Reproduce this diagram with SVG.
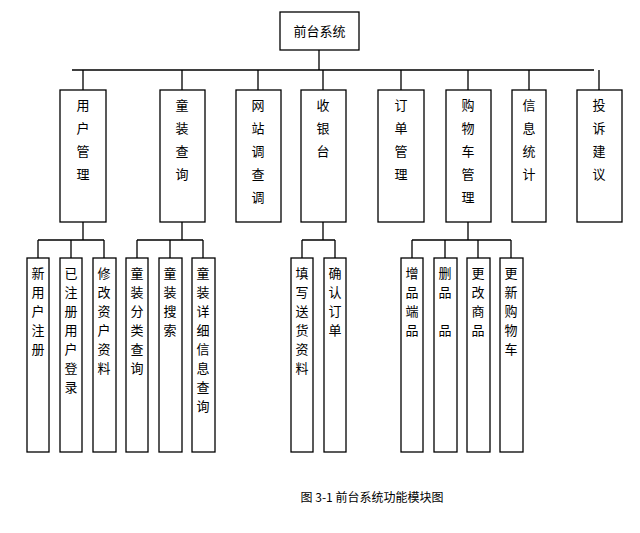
<svg xmlns="http://www.w3.org/2000/svg" width="640" height="533" viewBox="0 0 640 533">
<style>
rect{fill:#fff;stroke:#000;stroke-width:1.3}
text{font-family:"Noto Sans CJK SC","Liberation Sans",sans-serif;font-size:13px;fill:#000;text-anchor:middle}
.c path{fill:none;stroke:#000;stroke-width:1.3}
</style>
<rect x="0" y="0" width="640" height="533" style="stroke:none"/>
<g class="c">
<path d="M319 50V70M72 70H594M83 70V90M182 70V90M258 70V90M323 70V90M401 70V90M468 70V90M529 70V90M599 70V90"/>
<path d="M83 222V240M38 240H104M38 240V258M71 240V258M104 240V258"/>
<path d="M182 222V240M137 240H203M137 240V258M170 240V258M203 240V258"/>
<path d="M323 222V240M302 240H335M302 240V258M335 240V258"/>
<path d="M468 222V240M412 240H511M412 240V258M445 240V258M478 240V258M511 240V258"/>
</g>
<g id="root"><rect x="280" y="12" width="79" height="38"/><text x="319.5" y="36">前台系统</text></g>
<g id="l2">
<g id="n1"><rect x="60" y="90" width="46" height="132"/><text x="83"><tspan x="83" y="110">用</tspan><tspan x="83" y="133">户</tspan><tspan x="83" y="156">管</tspan><tspan x="83" y="179">理</tspan></text></g>
<g id="n2"><rect x="160" y="90" width="45" height="132"/><text><tspan x="182" y="110">童</tspan><tspan x="182" y="133">装</tspan><tspan x="182" y="156">查</tspan><tspan x="182" y="179">询</tspan></text></g>
<g id="n3"><rect x="236" y="90" width="45" height="132"/><text><tspan x="258" y="110">网</tspan><tspan x="258" y="133">站</tspan><tspan x="258" y="156">调</tspan><tspan x="258" y="179">查</tspan><tspan x="258" y="202">调</tspan></text></g>
<g id="n4"><rect x="301" y="90" width="45" height="132"/><text><tspan x="323" y="110">收</tspan><tspan x="323" y="133">银</tspan><tspan x="323" y="156">台</tspan></text></g>
<g id="n5"><rect x="378" y="90" width="46" height="132"/><text><tspan x="401" y="110">订</tspan><tspan x="401" y="133">单</tspan><tspan x="401" y="156">管</tspan><tspan x="401" y="179">理</tspan></text></g>
<g id="n6"><rect x="446" y="90" width="45" height="132"/><text><tspan x="468" y="110">购</tspan><tspan x="468" y="133">物</tspan><tspan x="468" y="156">车</tspan><tspan x="468" y="179">管</tspan><tspan x="468" y="202">理</tspan></text></g>
<g id="n7"><rect x="512" y="90" width="34" height="132"/><text><tspan x="529" y="110">信</tspan><tspan x="529" y="133">息</tspan><tspan x="529" y="156">统</tspan><tspan x="529" y="179">计</tspan></text></g>
<g id="n8"><rect x="577" y="90" width="45" height="132"/><text><tspan x="599" y="110">投</tspan><tspan x="599" y="133">诉</tspan><tspan x="599" y="156">建</tspan><tspan x="599" y="179">议</tspan></text></g>
</g>
<g id="l3">
<g id="m1"><rect x="27" y="258" width="22" height="194"/><text><tspan x="38" y="278">新</tspan><tspan x="38" y="297">用</tspan><tspan x="38" y="316">户</tspan><tspan x="38" y="335">注</tspan><tspan x="38" y="354">册</tspan></text></g>
<g id="m2"><rect x="60" y="258" width="22" height="194"/><text><tspan x="71" y="278">已</tspan><tspan x="71" y="297">注</tspan><tspan x="71" y="316">册</tspan><tspan x="71" y="335">用</tspan><tspan x="71" y="354">户</tspan><tspan x="71" y="373">登</tspan><tspan x="71" y="392">录</tspan></text></g>
<g id="m3"><rect x="93" y="258" width="23" height="194"/><text><tspan x="104" y="278">修</tspan><tspan x="104" y="297">改</tspan><tspan x="104" y="316">资</tspan><tspan x="104" y="335">户</tspan><tspan x="104" y="354">资</tspan><tspan x="104" y="373">料</tspan></text></g>
<g id="m4"><rect x="126" y="258" width="22" height="194"/><text><tspan x="137" y="278">童</tspan><tspan x="137" y="297">装</tspan><tspan x="137" y="316">分</tspan><tspan x="137" y="335">类</tspan><tspan x="137" y="354">查</tspan><tspan x="137" y="373">询</tspan></text></g>
<g id="m5"><rect x="159" y="258" width="23" height="194"/><text><tspan x="170" y="278">童</tspan><tspan x="170" y="297">装</tspan><tspan x="170" y="316">搜</tspan><tspan x="170" y="335">索</tspan></text></g>
<g id="m6"><rect x="192" y="258" width="23" height="194"/><text><tspan x="203" y="278">童</tspan><tspan x="203" y="297">装</tspan><tspan x="203" y="316">详</tspan><tspan x="203" y="335">细</tspan><tspan x="203" y="354">信</tspan><tspan x="203" y="373">息</tspan><tspan x="203" y="392">查</tspan><tspan x="203" y="411">询</tspan></text></g>
<g id="m7"><rect x="291" y="258" width="22" height="194"/><text><tspan x="302" y="278">填</tspan><tspan x="302" y="297">写</tspan><tspan x="302" y="316">送</tspan><tspan x="302" y="335">货</tspan><tspan x="302" y="354">资</tspan><tspan x="302" y="373">料</tspan></text></g>
<g id="m8"><rect x="324" y="258" width="22" height="194"/><text><tspan x="335" y="278">确</tspan><tspan x="335" y="297">认</tspan><tspan x="335" y="316">订</tspan><tspan x="335" y="335">单</tspan></text></g>
<g id="m9"><rect x="401" y="258" width="22" height="194"/><text><tspan x="412" y="278">增</tspan><tspan x="412" y="297">品</tspan><tspan x="412" y="316">端</tspan><tspan x="412" y="335">品</tspan></text></g>
<g id="m10"><rect x="434" y="258" width="23" height="194"/><text><tspan x="445" y="278">删</tspan><tspan x="445" y="297">品</tspan><tspan x="445" y="335">品</tspan></text></g>
<g id="m11"><rect x="467" y="258" width="23" height="194"/><text><tspan x="478" y="278">更</tspan><tspan x="478" y="297">改</tspan><tspan x="478" y="316">商</tspan><tspan x="478" y="335">品</tspan></text></g>
<g id="m12"><rect x="500" y="258" width="23" height="194"/><text><tspan x="511" y="278">更</tspan><tspan x="511" y="297">新</tspan><tspan x="511" y="316">购</tspan><tspan x="511" y="335">物</tspan><tspan x="511" y="354">车</tspan></text></g>
</g>
<text x="372" y="502" style="font-size:12px">图 3-1 前台系统功能模块图</text>
</svg>
